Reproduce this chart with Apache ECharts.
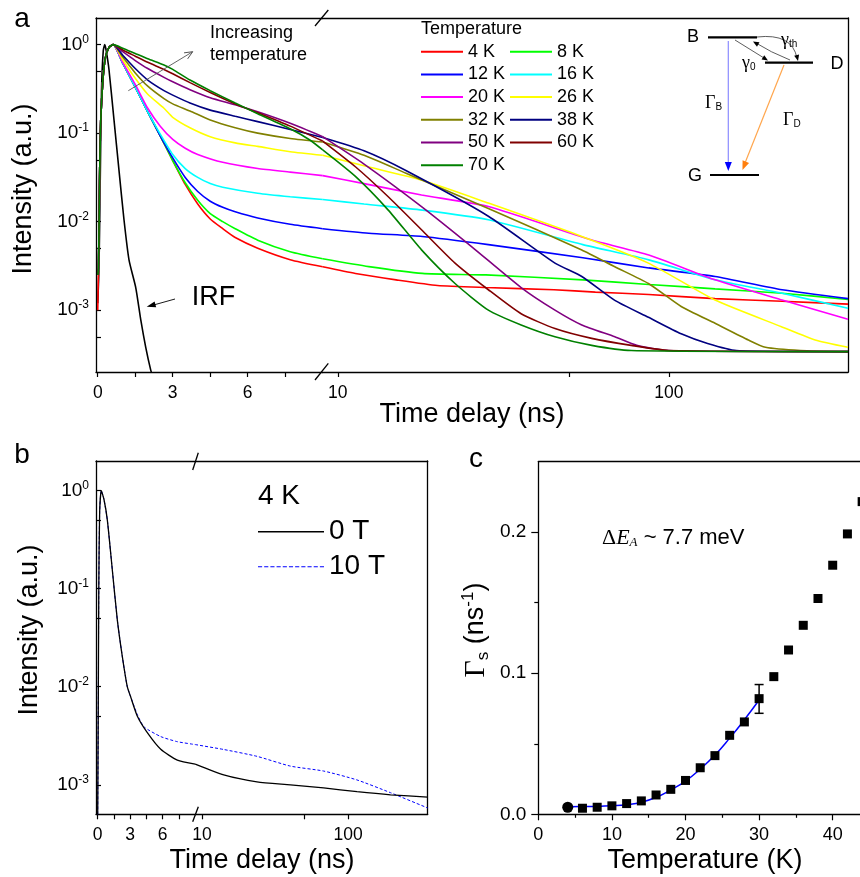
<!DOCTYPE html>
<html><head><meta charset="utf-8">
<script src="https://cdn.jsdelivr.net/npm/echarts@6/dist/echarts.min.js"></script>
<style>html,body{margin:0;padding:0;background:#fff}#c{width:860px;height:877px}</style>
</head><body><div id="c"></div>
<script>
// ---------------- DATA ----------------
// Panel a: temperature-dependent decays  [time (ns), intensity]
const TEMPS = ['4 K','8 K','12 K','16 K','20 K','26 K','32 K','38 K','50 K','60 K','70 K'];
const LEGEND_COL1 = ['4 K','12 K','20 K','32 K','50 K','70 K'];
const LEGEND_COL2 = ['8 K','16 K','26 K','38 K','60 K'];
const RISE = [[0.03,0.003],[0.08,0.04],[0.12,0.14],[0.2,0.38],[0.3,0.7],[0.45,0.93],[0.62,1.0]];
const D4  = [[0,0.001],[1.0,0.617],[1.5,0.331],[2.0,0.174],[2.5,0.0933],[3.0,0.049],[3.5,0.0263],[4.0,0.0158],[4.5,0.0107],[5.0,0.00832],[5.5,0.00661],[6.4,0.00501],[7.7,0.00372],[9,0.00309],[11.3,0.0026],[15,0.0022],[20,0.0019],[28,0.0018],[45,0.0017],[60,0.0016],[87,0.0015],[138,0.00135],[220,0.00126],[348,0.00117]];
const D8  = [[1.0,0.617],[1.5,0.331],[2.0,0.174],[2.5,0.0933],[3.0,0.049],[3.5,0.0275],[4.0,0.0174],[4.5,0.0123],[5.0,0.01],[5.5,0.00832],[6.4,0.00617],[7.7,0.00457],[9,0.0038],[12.4,0.0031],[18,0.0026],[28,0.0025],[55,0.0022],[87,0.00195],[138,0.00174],[220,0.00155],[348,0.00132]];
const D12 = [[1.0,0.617],[1.5,0.331],[2.0,0.174],[2.5,0.0933],[3.0,0.0525],[3.5,0.0316],[4.0,0.0219],[4.5,0.0170],[5.0,0.0145],[5.5,0.0129],[6.4,0.0110],[7.7,0.00933],[9,0.00832],[12.4,0.0074],[18,0.0068],[28.5,0.0055],[55,0.0039],[87,0.0030],[138,0.0024],[220,0.0017],[348,0.00135]];
const D16 = [[1.0,0.617],[1.5,0.331],[2.0,0.174],[2.5,0.0977],[3.0,0.0575],[3.5,0.0398],[4.0,0.0316],[4.5,0.0269],[5.0,0.0245],[6.4,0.0209],[7.7,0.0191],[9,0.0178],[12,0.0158],[18,0.0135],[28.5,0.0105],[55,0.0055],[87,0.0037],[138,0.0022],[220,0.00155],[348,0.00105]];
const D20 = [[1.0,0.631],[1.5,0.355],[2.0,0.191],[2.5,0.120],[3.0,0.0851],[3.5,0.0676],[4.0,0.0575],[5.0,0.0468],[6.4,0.0398],[7.7,0.0363],[9,0.0331],[12,0.0269],[17.9,0.020],[28.5,0.0148],[58.5,0.0062],[87,0.0042],[138,0.0022],[220,0.0013],[348,0.00079]];
const D26 = [[1.0,0.676],[1.5,0.417],[2.0,0.275],[2.65,0.191],[3.0,0.151],[3.69,0.115],[4.5,0.0912],[5.5,0.0776],[6.4,0.0708],[7.7,0.0617],[9,0.0562],[12,0.0427],[17.9,0.0295],[28.5,0.0162],[54.6,0.0068],[86.8,0.0034],[138,0.0013],[219,0.00065],[277,0.00046],[348,0.00038]];
const D32 = [[1.0,0.724],[1.5,0.479],[2.0,0.339],[2.65,0.245],[3.0,0.214],[3.69,0.178],[4.5,0.141],[5.5,0.115],[6.4,0.1],[7.7,0.0871],[9,0.0794],[12,0.0562],[16,0.0355],[28.5,0.0141],[54.6,0.00479],[68.7,0.00309],[86.8,0.0020],[109,0.0011],[138,0.00071],[174,0.00046],[196,0.00038],[250,0.00035],[348,0.00034]];
const D38 = [[1.0,0.759],[1.5,0.537],[2.0,0.398],[2.65,0.302],[3.0,0.269],[3.69,0.219],[4.5,0.182],[5.5,0.155],[6.4,0.135],[7.7,0.110],[9,0.0891],[12,0.0631],[16,0.038],[28.5,0.0115],[45.3,0.0034],[54.6,0.0024],[68.7,0.00129],[86.8,0.00083],[109,0.00054],[131,0.00042],[160,0.00035],[348,0.00034]];
const D50 = [[1.0,0.832],[1.5,0.661],[2.0,0.537],[2.65,0.427],[3.0,0.380],[3.69,0.309],[4.5,0.251],[5.5,0.209],[6.4,0.174],[7.7,0.129],[9,0.0912],[12,0.0447],[17.9,0.0148],[25.4,0.0052],[35.8,0.0018],[45.3,0.0010],[54.6,0.00068],[68.7,0.0005],[80,0.0004],[100,0.00035],[348,0.00034]];
const D60 = [[1.0,0.871],[1.5,0.741],[2.0,0.631],[2.65,0.525],[3.0,0.468],[3.69,0.372],[4.5,0.288],[5.5,0.214],[6.4,0.170],[7.7,0.120],[9,0.0813],[11.3,0.0417],[14.2,0.0191],[17.9,0.0081],[22.6,0.0034],[28.5,0.0017],[35.8,0.00091],[45.3,0.00062],[58.5,0.00048],[77,0.0004],[100,0.00035],[348,0.00034]];
const D70 = [[1.0,0.912],[1.5,0.794],[2.0,0.692],[2.65,0.589],[3.0,0.525],[3.69,0.398],[4.5,0.302],[5.5,0.219],[6.4,0.166],[7.7,0.112],[8.5,0.0832],[9,0.0646],[11.3,0.0324],[14.2,0.0135],[17.9,0.0048],[22.6,0.0020],[28.5,0.0010],[35.8,0.00068],[45.3,0.0005],[58.5,0.0004],[77,0.00035],[348,0.00034]];
const DECAYS = [D4,D8,D12,D16,D20,D26,D32,D38,D50,D60,D70];
const IRF = [[0,0.0012],[0.05,0.003],[0.1,0.03],[0.15,0.3],[0.22,0.85],[0.28,1.0],[0.34,0.85],[0.45,0.52],[0.65,0.141],[0.85,0.038],[1.05,0.0105],[1.25,0.0037],[1.52,0.0018],[1.72,0.00078],[1.92,0.00038],[2.12,0.00021],[2.2,0.00018]];

// Panel b: 4 K, 0 T vs 10 T
const B_NAMES = ['0 T','10 T'];
const B_0T  = [[0,0.0005],[0.05,0.005],[0.1,0.1],[0.18,0.6],[0.33,1.0],[0.58,0.81],[0.89,0.50],[1.35,0.155],[1.81,0.048],[2.27,0.0204],[2.73,0.010],[3.04,0.0079],[3.66,0.0050],[4.58,0.0034],[5.82,0.0023],[7.35,0.00178],[9,0.00162],[14.1,0.00126],[23.8,0.00107],[40.3,0.0010],[68,0.00093],[115,0.00085],[195,0.00079],[350,0.00075]];
const B_10T = [[0,0.0005],[0.05,0.005],[0.1,0.1],[0.18,0.6],[0.33,1.0],[0.58,0.81],[0.89,0.50],[1.35,0.155],[1.81,0.048],[2.27,0.0204],[2.73,0.010],[3.04,0.0079],[3.66,0.0052],[4.27,0.0039],[5.82,0.0031],[7.35,0.00275],[9,0.00257],[14.1,0.00229],[23.8,0.00195],[40.3,0.00155],[68,0.00138],[115,0.00112],[195,0.00083],[350,0.00058]];

// Panel c: spin-flip rate vs temperature
const C_T     = [4,6,8,10,12,14,16,18,20,22,24,26,28,30,32,34,36,38,40,42,44];
const C_GAMMA = [0.005,0.0043,0.005,0.006,0.0076,0.0095,0.0137,0.0177,0.024,0.033,0.0416,0.056,0.0655,0.082,0.0976,0.1165,0.134,0.153,0.1766,0.1988,0.2217];
const FIT_T     = [4,6,8,10,12,14,16,18,20,22,24,26,28,30];
const FIT_GAMMA = [0.0054,0.0055,0.0056,0.006,0.0068,0.0085,0.012,0.0173,0.0236,0.032,0.042,0.054,0.067,0.081];
const ERR_BARS  = [[30,0.0716,0.092]];

// Tick values
const LIN_TICKS = [0,1.5,3,4.5,6,7.5];
const LIN_LABELS = [0,3,6];
const LOG_TICKS = [10,50,100];
const LOG_LABELS = [10,100];
const A_Y_TICKS = [5e-4,1e-3,5e-3,1e-2,5e-2,0.1,0.5,1];
const B_Y_TICKS = [1e-3,5e-3,1e-2,5e-2,0.1,0.5,1];
const Y_DECADES = [1e-3,1e-2,0.1,1];

// ---------------- STYLE ----------------
const COLORS = ['#ff0000','#00ff00','#0000ff','#00ffff','#ff00ff','#ffff00','#808000','#000080','#800080','#800000','#008000'];
const FONT = 'Liberation Sans, Arial, sans-serif';
const SERIF = 'Liberation Serif, Times New Roman, serif';
const BLACK = '#000';
const DASH_ICON = 'path://M0,0h4v1h-4z M6,0h4v1h-4z M12,0h4v1h-4z M18,0h4v1h-4z M24,0h4v1h-4z M30,0h4v1h-4z M36,0h4v1h-4z M42,0h4v1h-4z M48,0h4v1h-4z M54,0h4v1h-4z M60,0h4v1h-4z';

function axisLine(){ return {show:true, onZero:false, lineStyle:{color:BLACK, width:1.3}}; }
function frameX(grid, type, min, max){
  return {type, gridIndex:grid, position:'top', min, max, logBase:10, axisLine:axisLine(),
    axisTick:{show:false}, axisLabel:{show:false}, splitLine:{show:false}, minorTick:{show:false}};
}
function frameY(grid, type, min, max){
  return {type, gridIndex:grid, position:'right', min, max, logBase:10, axisLine:axisLine(),
    axisTick:{show:false}, axisLabel:{show:false}, splitLine:{show:false}, minorTick:{show:false}};
}
function bottomX(grid, type, min, max, ticks, labels){
  return {type, gridIndex:grid, position:'bottom', min, max, logBase:10, axisLine:axisLine(),
    axisTick:{show:true, inside:false, length:5, customValues:ticks, lineStyle:{color:BLACK,width:1.2}},
    axisLabel:{show:true, customValues:labels, fontSize:17.5, fontFamily:FONT, color:BLACK, margin:12},
    splitLine:{show:false}, minorTick:{show:false}};
}
const RICH = {
  b:{fontSize:19, fontFamily:FONT, color:BLACK, lineHeight:22},
  s:{fontSize:12, fontFamily:FONT, color:BLACK, lineHeight:12, verticalAlign:'top'}
};
function expLabel(v){ const e = Math.round(Math.log10(v)); return '{b|10}{s|' + e + '}'; }
function leftLogY(grid, min, max, ticks){
  return {type:'log', gridIndex:grid, position:'left', min, max, logBase:10, axisLine:axisLine(),
    axisTick:{show:true, inside:true, length:5, customValues:ticks, lineStyle:{color:BLACK,width:1.2}},
    axisLabel:{show:true, customValues:Y_DECADES, formatter:expLabel, rich:RICH, margin:7},
    splitLine:{show:false}, minorTick:{show:false}};
}

const xAxes = [
  bottomX(0,'value',-0.07,9,LIN_TICKS,LIN_LABELS),   //0
  frameX(0,'value',-0.07,9),                          //1
  bottomX(1,'log',9,348,LOG_TICKS,LOG_LABELS),        //2
  frameX(1,'log',9,348),                              //3
  bottomX(2,'value',-0.157,9,LIN_TICKS,LIN_LABELS),  //4
  frameX(2,'value',-0.157,9),                         //5
  bottomX(3,'log',9,350,LOG_TICKS,LOG_LABELS),        //6
  frameX(3,'log',9,350),                              //7
  {type:'value', gridIndex:4, position:'bottom', min:0, max:50, interval:10, axisLine:axisLine(),
   axisTick:{show:true, length:6, lineStyle:{color:BLACK,width:1.2}},
   minorTick:{show:true, splitNumber:2, length:3.5, lineStyle:{color:BLACK,width:1.2}},
   axisLabel:{fontSize:18, fontFamily:FONT, color:BLACK, margin:12},
   splitLine:{show:false}, minorSplitLine:{show:false}},             //8
  frameX(4,'value',0,50)                              //9
];
const yAxes = [
  leftLogY(0,2e-4,2,A_Y_TICKS),                       //0
  frameY(1,'log',2e-4,2),                             //1
  leftLogY(2,5e-4,2,B_Y_TICKS),                       //2
  frameY(3,'log',5e-4,2),                             //3
  {type:'value', gridIndex:4, position:'left', min:0, max:0.25, axisLine:axisLine(),
   axisTick:{show:true, length:7, customValues:[0,0.1,0.2], lineStyle:{color:BLACK,width:1.2}},
   axisLabel:{customValues:[0,0.1,0.2], formatter:v=>v.toFixed(1), fontSize:19, fontFamily:FONT, color:BLACK, margin:12},
   splitLine:{show:false}},                           //4
  {type:'value', gridIndex:4, position:'left', min:0, max:0.25, axisLine:{show:false},
   axisTick:{show:true, length:4, customValues:[0.05,0.15], lineStyle:{color:BLACK,width:1.2}},
   axisLabel:{show:false}, splitLine:{show:false}}    //5
];

// ---------------- SERIES ----------------
const series = [];
const lin = d => d.filter(p => p[0] <= 9);
const lg  = d => d.filter(p => p[0] >= 9);
function lineSeries(name, data, xi, yi, color, width, extra){
  return Object.assign({name, type:'line', xAxisIndex:xi, yAxisIndex:yi, data, symbol:'none', showSymbol:false,
    smooth:0.2, lineStyle:{color, width}, itemStyle:{color}, emphasis:{disabled:true}, animation:false}, extra||{});
}
series.push(lineSeries('IRF', IRF, 0, 0, '#000', 1.6));
TEMPS.forEach((n,i) => {
  const full = (i === 0 ? [] : [[0.0,0.0025]]).concat(RISE, DECAYS[i]).sort((a,b)=>a[0]-b[0]);
  series.push(lineSeries(n, lin(full), 0, 0, COLORS[i], 1.6));
  series.push(lineSeries(n, lg(full), 2, 1, COLORS[i], 1.6));
});
// panel b
series.push(lineSeries(B_NAMES[1], lin(B_10T), 4, 2, '#0000ff', 1, {lineStyle:{color:'#0000ff', width:1, type:[3,2]}}));
series.push(lineSeries(B_NAMES[1], lg(B_10T), 6, 3, '#0000ff', 1, {lineStyle:{color:'#0000ff', width:1, type:[3,2]}}));
series.push(lineSeries(B_NAMES[0], lin(B_0T), 4, 2, '#000', 1.3));
series.push(lineSeries(B_NAMES[0], lg(B_0T), 6, 3, '#000', 1.3));
// panel c
series.push({type:'line', name:'fit', xAxisIndex:8, yAxisIndex:4, data:FIT_T.map((t,i)=>[t,FIT_GAMMA[i]]),
  symbol:'none', smooth:true, lineStyle:{color:'#0000ff', width:1.5}, z:3, animation:false});
series.push({type:'scatter', name:'Gs', xAxisIndex:8, yAxisIndex:4,
  data:C_T.map((t,i)=> i===0 ? {value:[t,C_GAMMA[i]], symbol:'circle', symbolSize:11} : [t,C_GAMMA[i]]),
  symbol:'rect', symbolSize:9, itemStyle:{color:'#000', opacity:1}, emphasis:{disabled:true}, z:4, animation:false});
series.push({type:'custom', name:'err', xAxisIndex:8, yAxisIndex:4, data:ERR_BARS, encode:{x:0, y:[1,2]}, z:5,
  renderItem:(params, api)=>{
    const x = api.value(0), lo = api.value(1), hi = api.value(2);
    const p1 = api.coord([x,lo]), p2 = api.coord([x,hi]);
    const w = 4.5, st = {stroke:'#000', lineWidth:1.5};
    return {type:'group', children:[
      {type:'line', shape:{x1:p1[0],y1:p1[1],x2:p2[0],y2:p2[1]}, style:st},
      {type:'line', shape:{x1:p1[0]-w,y1:p1[1],x2:p1[0]+w,y2:p1[1]}, style:st},
      {type:'line', shape:{x1:p2[0]-w,y1:p2[1],x2:p2[0]+w,y2:p2[1]}, style:st}
    ]};
  }, animation:false});

// ---------------- GRAPHICS (annotations) ----------------
function txt(x,y,text,size,o){
  o = o || {};
  return {type:'text', x, y, rotation:o.rot||0, z:100, silent:true,
    style:{text, fontSize:size, fontFamily:o.family||FONT, fontStyle:o.italic?'italic':'normal', fill:o.color||'#000',
      textAlign:o.align||'left', textVerticalAlign:o.va||'middle', align:o.align||'left', verticalAlign:o.va||'middle', rich:o.rich}};
}
function seg(x1,y1,x2,y2,color,w,dash){
  return {type:'line', z:100, silent:true, shape:{x1,y1,x2,y2}, style:{stroke:color, lineWidth:w, lineDash:dash||null}};
}
function head(x1,y1,x2,y2,len,half,color){
  const dx=x2-x1, dy=y2-y1, L=Math.hypot(dx,dy), ux=dx/L, uy=dy/L;
  const bx=x2-ux*len, by=y2-uy*len;
  return {type:'polygon', z:101, silent:true, shape:{points:[[x2,y2],[bx-uy*half,by+ux*half],[bx+uy*half,by-ux*half]]}, style:{fill:color}};
}
function openHead(x1,y1,x2,y2,len,half,color){
  const dx=x2-x1, dy=y2-y1, L=Math.hypot(dx,dy), ux=dx/L, uy=dy/L;
  const bx=x2-ux*len, by=y2-uy*len;
  return {type:'polyline', z:101, silent:true, shape:{points:[[bx-uy*half,by+ux*half],[x2,y2],[bx+uy*half,by-ux*half]]}, style:{stroke:color, lineWidth:1, fill:null}};
}
function bez(x1,y1,cx,cy,x2,y2,color,w){
  return {type:'bezierCurve', z:100, silent:true, shape:{x1,y1,x2,y2,cpx1:cx,cpy1:cy}, style:{stroke:color, lineWidth:w, fill:null}};
}
const GREEK = {g:{fontSize:18, fontFamily:SERIF, color:'#000'}, s:{fontSize:10, fontFamily:FONT, color:'#000', verticalAlign:'bottom', padding:[8,0,0,0]}};
const graphics = [
  // panel labels
  txt(22,19,'a',28,{align:'center'}),
  txt(22,455,'b',28,{align:'center'}),
  txt(476,459,'c',28,{align:'center'}),
  // axis titles
  txt(472,415,'Time delay (ns)',27,{align:'center'}),
  txt(24,189,'Intensity (a.u.)',27,{align:'center', rot:Math.PI/2}),
  txt(262,861,'Time delay (ns)',27,{align:'center'}),
  txt(30,630,'Intensity (a.u.)',27,{align:'center', rot:Math.PI/2}),
  txt(705,861,'Temperature (K)',27,{align:'center'}),
  txt(476,630,'{g|Γ}{s|s} (ns{u|-1})',27,{align:'center', rot:Math.PI/2, rich:{
    g:{fontSize:30, fontFamily:SERIF, color:'#000', lineHeight:32},
    s:{fontSize:17, fontFamily:FONT, color:'#000', verticalAlign:'bottom', lineHeight:17},
    u:{fontSize:17, fontFamily:FONT, color:'#000', verticalAlign:'top', lineHeight:17}}}),
  // break marks
  seg(315,26,328.3,10,'#000',1.3), seg(315,380,328.3,363.3,'#000',1.3),
  seg(192.7,470,198.3,452.7,'#000',1.3), seg(192.7,821.7,198.3,806.7,'#000',1.3),
  // panel a annotations
  txt(210,33,'Increasing',18), txt(210,55,'temperature',18),
  seg(128.3,90.7,192.7,51.7,'#555',0.9), openHead(128.3,90.7,192.7,51.7,8,3.5,'#555'),
  txt(191.7,298,'IRF',27),
  seg(175,299,150,306,'#000',0.9), head(175,299,146.7,306.7,9,3,'#000'),
  txt(421,29,'Temperature',18),
  // level diagram
  txt(693,37,'B',18,{align:'center'}), seg(708,37.3,757,37.3,'#000',2.2),
  txt(837,64,'D',18,{align:'center'}), seg(765,62.7,813,62.7,'#000',2.2),
  txt(695,176,'G',18,{align:'center'}), seg(710,175,759,175,'#000',2.2),
  seg(728.3,41,728.3,164,'#8c8cff',1.2), head(728.3,150,728.3,171,9,3.5,'#0000ff'),
  seg(784,65,745,163,'#ffa64d',1.2), head(784,65,742.5,170,9,3.5,'#ff7f0e'),
  seg(735,40,764,58,'#333',0.8), head(735,40,768,60.5,6,2.5,'#000'),
  bez(790,60,770,52,756,43,'#333',0.8), head(768,50,753,41.5,6,2.5,'#000'),
  bez(757,37,792,33,797,58,'#333',0.8), head(795,48,798,61,6,2.5,'#000'),
  txt(705,103,'{g|Γ}{s|B}',18,{rich:GREEK}),
  txt(783,120,'{g|Γ}{s|D}',18,{rich:GREEK}),
  txt(781,40,'{g|γ}{s|th}',18,{rich:GREEK}),
  txt(742,63,'{g|γ}{s|0}',18,{rich:GREEK}),
  // panel b legend title
  txt(258,496,'4 K',28),
  // panel c annotation
  txt(602,538,'{d|Δ}{e|E}{a|A}{n| ~ 7.7 meV}',22,{rich:{
    d:{fontSize:22, fontFamily:SERIF, color:'#000'},
    e:{fontSize:22, fontFamily:SERIF, fontStyle:'italic', color:'#000'},
    a:{fontSize:13, fontFamily:SERIF, fontStyle:'italic', color:'#000', verticalAlign:'bottom', padding:[10,0,0,0]},
    n:{fontSize:22, fontFamily:FONT, color:'#000'}}})
];

// ---------------- OPTION ----------------
const gridBase = {containLabel:false, outerBoundsMode:'none', show:false};
const legendText = {fontSize:18, fontFamily:FONT, color:'#000', lineHeight:18};
const option = {
  animation:false,
  backgroundColor:'#fff',
  grid:[
    Object.assign({left:96, top:18, width:226.7, height:354}, gridBase),
    Object.assign({left:322.7, top:18, width:525.3, height:354}, gridBase),
    Object.assign({left:96, top:461, width:99.2, height:353.3}, gridBase),
    Object.assign({left:195.2, top:461, width:232.5, height:353.3}, gridBase),
    Object.assign({left:538.3, top:461.7, width:368, height:352.6}, gridBase)
  ],
  xAxis:xAxes,
  yAxis:yAxes,
  legend:[
    {data:LEGEND_COL1, icon:'rect', orient:'vertical', left:421, top:42.7, padding:0, itemWidth:42, itemHeight:2, itemGap:4.7,
     selectedMode:false, textStyle:legendText},
    {data:LEGEND_COL2, icon:'rect', orient:'vertical', left:510, top:42.7, padding:0, itemWidth:42, itemHeight:2, itemGap:4.7,
     selectedMode:false, textStyle:legendText},
    {data:[{name:B_NAMES[0], icon:'rect'},{name:B_NAMES[1], icon:DASH_ICON}], orient:'vertical', left:258, top:517.7, padding:0,
     itemWidth:66, itemHeight:1.5, itemGap:7, selectedMode:false,
     textStyle:{fontSize:28, fontFamily:FONT, color:'#000', lineHeight:28}}
  ],
  series,
  graphic:{elements:graphics}
};
const chart = echarts.init(document.getElementById('c'), null, {renderer:'canvas', width:860, height:877});
chart.setOption(option);
</script></body></html>
